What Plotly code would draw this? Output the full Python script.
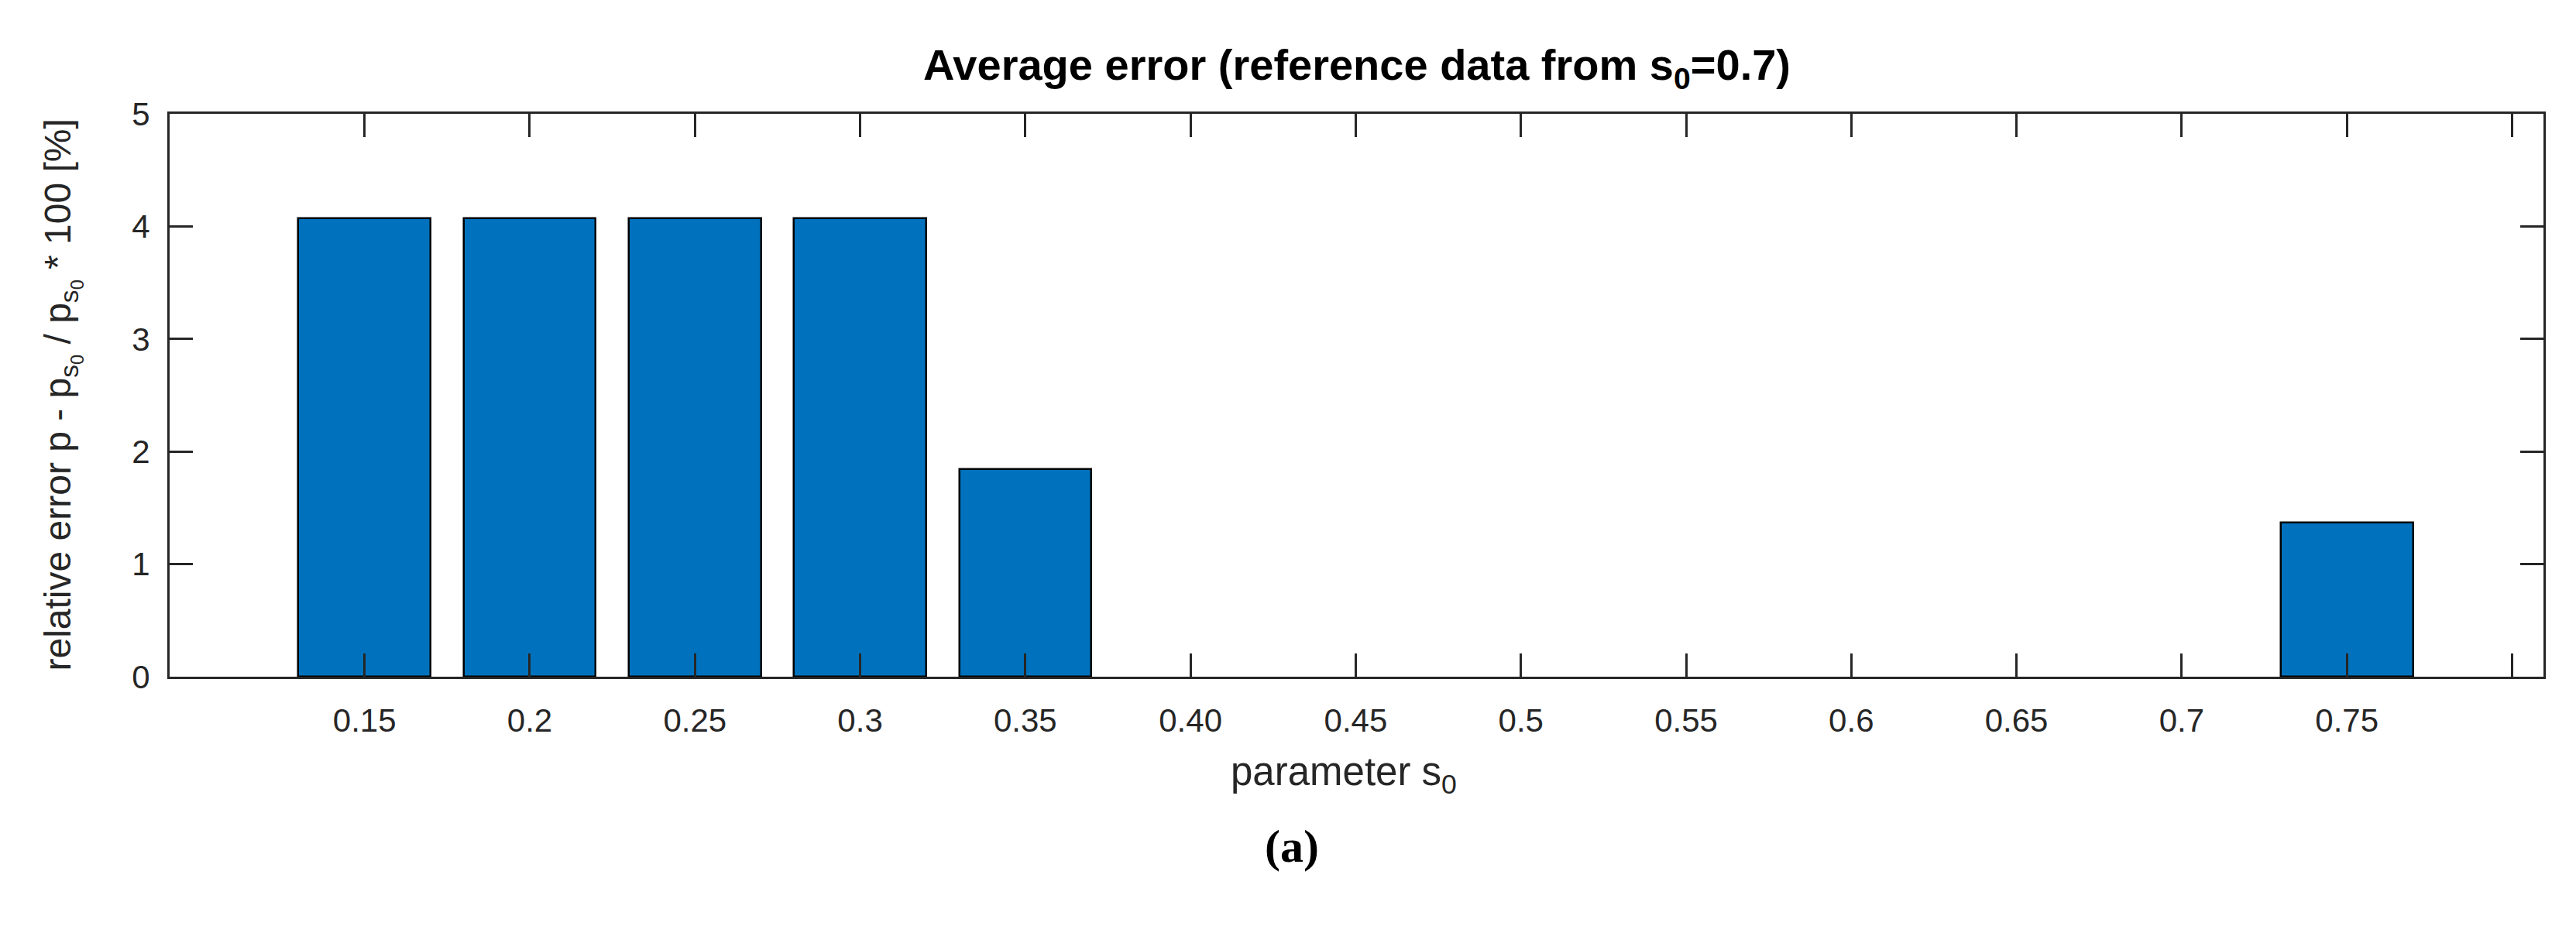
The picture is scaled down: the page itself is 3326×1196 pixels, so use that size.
import plotly.graph_objects as go

# ---- data ----
categories = ["0.15", "0.2", "0.25", "0.3", "0.35", "0.40", "0.45",
              "0.5", "0.55", "0.6", "0.65", "0.7", "0.75"]
errors = [4.07, 4.07, 4.07, 4.07, 1.84, 0, 0, 0, 0, 0, 0, 0, 1.37]
y_ticks = [0, 1, 2, 3, 4, 5]

W, H = 3326, 1196
L, R, T, B = 211, 50, 139, 330
pw, ph = W - L - R, H - T - B

positions = list(range(1, len(categories) + 1))
tickvals = positions + [len(categories) + 1]
ticktext = categories + [""]

AX = "#262626"
FONT = "Liberation Sans, Arial, sans-serif"

fig = go.Figure()
fig.add_trace(go.Bar(
    x=positions, y=errors, width=0.8,
    marker=dict(color="#0072BD",
                line=dict(color="#000000",
                          width=[2.5 if v > 0 else 0 for v in errors])),
    showlegend=False,
))

fig.update_layout(
    width=W, height=H,
    margin=dict(l=L, r=R, t=T, b=B, pad=0),
    paper_bgcolor="white", plot_bgcolor="white",
    font=dict(family=FONT, color=AX, size=42),
    bargap=0,
)
fig.update_xaxes(
    range=[-0.18, 14.19], tickvals=tickvals, ticktext=ticktext,
    ticks="inside", ticklen=30, tickwidth=2.5, tickcolor=AX,
    showline=True, linecolor=AX, linewidth=3, mirror="ticks",
    showgrid=False, zeroline=False,
    tickfont=dict(size=42, color=AX), ticklabelstandoff=18,
)
fig.update_yaxes(
    range=[0, 5], tickvals=y_ticks,
    ticks="inside", ticklen=30, tickwidth=2.5, tickcolor=AX,
    showline=True, linecolor=AX, linewidth=3, mirror="ticks",
    showgrid=False, zeroline=False,
    tickfont=dict(size=42, color=AX), ticklabelstandoff=14,
)

def px(xp):
    return (xp - L) / pw

def py(yp):
    return (T + ph - yp) / ph

annotations = [
    dict(text="<b>Average error (reference data from s<sub>0</sub>=0.7)</b>",
         x=0.5, y=py(80), font=dict(size=56, color="#000000")),
    dict(text="parameter s<sub>0</sub>", x=px(1727), y=py(992),
         font=dict(size=51, color=AX)),
    dict(text="relative error p - p<sub>s<sub>0</sub></sub> / p<sub>s<sub>0</sub></sub> * 100 [%]",
         x=px(72), y=0.5, textangle=-90, font=dict(size=48, color=AX)),
    dict(text="<b>(a)</b>", x=px(1660), y=py(1085),
         font=dict(size=60, color="#000000",
                   family="Liberation Serif, Times New Roman, serif")),
]
for a in annotations:
    a.update(xref="paper", yref="paper", showarrow=False,
             xanchor="center", yanchor="middle")
fig.update_layout(annotations=annotations)

fig.write_html("out.html")
